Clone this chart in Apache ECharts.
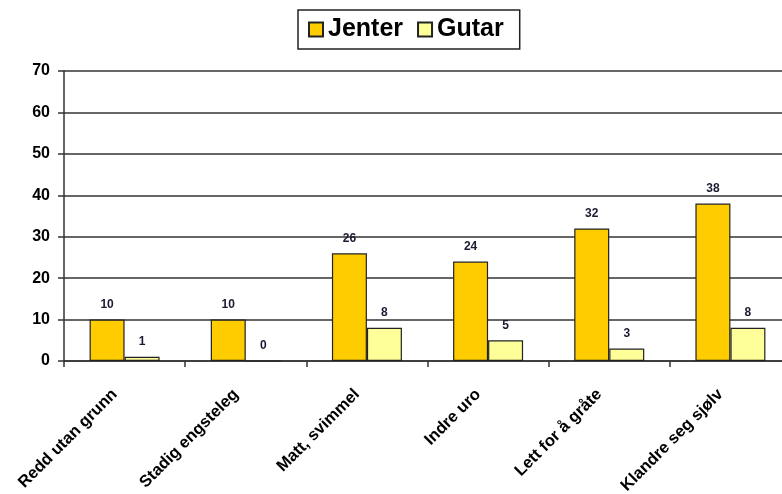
<!DOCTYPE html>
<html><head><meta charset="utf-8">
<script src="https://cdn.jsdelivr.net/npm/echarts@6/dist/echarts.min.js"></script>
<style>html,body{margin:0;padding:0;background:#fff;overflow:hidden}#c{width:791px;height:494px}</style>
</head><body><div id="c"></div>
<script>
const categories = ['Redd utan grunn','Stadig engsteleg','Matt, svimmel','Indre uro','Lett for å gråte','Klandre seg sjølv'];
const jenter = [10,10,26,24,32,38];
const gutar = [1,0,8,5,3,8];
const yTicks = [0,10,20,30,40,50,60,70];

const chart = echarts.init(document.getElementById('c'));
const lbl = {show:true, position:'top', distance:9, fontFamily:'Liberation Sans, Arial', fontWeight:'bold', fontSize:12, color:'#1a1a33'};
chart.setOption({
  animation:false,
  legend:{
    top:10, left:298, icon:'rect', itemWidth:14, itemHeight:14, itemGap:14,
    padding:[7,16,7,10], borderColor:'#222', borderWidth:1.5,
    textStyle:{fontFamily:'Liberation Sans, Arial', fontWeight:'bold', fontSize:25, color:'#000'},
    data:['Jenter','Gutar']
  },
  grid:{left:64, right:0, top:71, bottom:133, containLabel:false, outerBoundsMode:'none'},
  xAxis:{
    type:'category', data:categories,
    axisLine:{lineStyle:{color:'#333', width:1.5}},
    axisTick:{show:true, length:6, lineStyle:{color:'#333', width:1.5}},
    axisLabel:{rotate:45, margin:21, padding:[0,14,0,0], interval:0, fontFamily:'Liberation Sans, Arial', fontWeight:'bold', fontSize:16.5, color:'#000'}
  },
  yAxis:{
    type:'value', min:0, max:70, interval:10,
    axisLine:{show:true, lineStyle:{color:'#333', width:1.5}},
    axisTick:{show:true, length:6, lineStyle:{color:'#333', width:1.5}},
    splitLine:{lineStyle:{color:'#333', width:1.5}},
    axisLabel:{margin:14, fontFamily:'Liberation Sans, Arial', fontWeight:'bold', fontSize:16, color:'#000',
      formatter:v=> yTicks.includes(v)? String(v):''}
  },
  series:[
    {name:'Jenter', type:'bar', data:jenter, barWidth:35, barGap:'0%',
     itemStyle:{color:'#FFCC00', borderColor:'#222', borderWidth:1.2}, label:lbl},
    {name:'Gutar', type:'bar', data:gutar, barWidth:35,
     itemStyle:{color:'#FFFF99', borderColor:'#222', borderWidth:1.2}, label:lbl}
  ]
});
</script></body></html>
